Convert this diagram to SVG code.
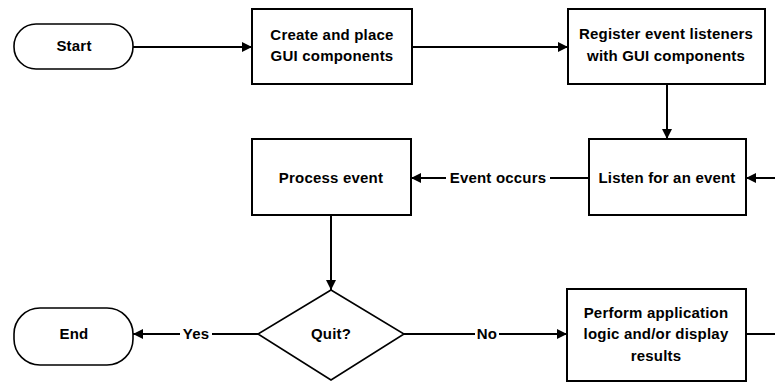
<svg xmlns="http://www.w3.org/2000/svg" width="775" height="383" viewBox="0 0 775 383">
<style>
.box{fill:#fff;stroke:#000;stroke-width:2}
.term{fill:#fff;stroke:#000;stroke-width:1.6}
.t{font-family:"Liberation Sans",Arial,sans-serif;font-size:15px;font-weight:bold;fill:#000;text-anchor:middle;letter-spacing:0.2px}
.ln{stroke:#000;stroke-width:2;fill:none}
.lbl{font-family:"Liberation Sans",Arial,sans-serif;font-size:15px;font-weight:bold;fill:#000;text-anchor:middle;letter-spacing:0.2px}
</style>
<defs>
<marker id="ah" viewBox="0 0 10 10" refX="10" refY="5" markerWidth="5" markerHeight="5" orient="auto" markerUnits="strokeWidth">
<path d="M0,0 L10,5 L0,10 z" fill="#000"/>
</marker>
</defs>
<g id="connectors">
<line class="ln" x1="133" y1="47" x2="252" y2="47" marker-end="url(#ah)"/>
<line class="ln" x1="412" y1="47" x2="568" y2="47" marker-end="url(#ah)"/>
<line class="ln" x1="667" y1="84" x2="667" y2="139" marker-end="url(#ah)"/>
<line class="ln" x1="775" y1="178" x2="746" y2="178" marker-end="url(#ah)"/>
<line class="ln" x1="589" y1="178" x2="550" y2="178"/>
<line class="ln" x1="446" y1="178" x2="411" y2="178" marker-end="url(#ah)"/>
<text class="lbl" x="498" y="183">Event occurs</text>
<line class="ln" x1="331" y1="215" x2="331" y2="290" marker-end="url(#ah)"/>
<line class="ln" x1="258" y1="334" x2="212" y2="334"/>
<line class="ln" x1="180" y1="334" x2="133" y2="334" marker-end="url(#ah)"/>
<text class="lbl" x="196" y="339">Yes</text>
<line class="ln" x1="404" y1="334" x2="475" y2="334"/>
<line class="ln" x1="499" y1="334" x2="567" y2="334" marker-end="url(#ah)"/>
<text class="lbl" x="487" y="339">No</text>
<line class="ln" x1="746" y1="334" x2="775" y2="334"/>
</g>
<g id="start">
<rect class="term" x="14" y="24" width="119" height="45" rx="22" ry="22"/>
<text class="t" x="74" y="51">Start</text>
</g>
<g id="create">
<rect class="box" x="252" y="9" width="160" height="75"/>
<text class="t" x="332" y="40">Create and place</text>
<text class="t" x="332" y="61">GUI components</text>
</g>
<g id="register">
<rect class="box" x="568" y="9" width="197" height="75"/>
<text class="t" x="666" y="39">Register event listeners</text>
<text class="t" x="666" y="61">with GUI components</text>
</g>
<g id="listen">
<rect class="box" x="589" y="139" width="157" height="76"/>
<text class="t" x="667" y="183">Listen for an event</text>
</g>
<g id="process">
<rect class="box" x="252" y="139" width="159" height="76"/>
<text class="t" x="331" y="183">Process event</text>
</g>
<g id="quit">
<polygon class="term" points="331,290 404,334 331,380 258,334"/>
<text class="t" x="331" y="339">Quit?</text>
</g>
<g id="end">
<rect class="term" x="14" y="308" width="119" height="57" rx="26" ry="26"/>
<text class="t" x="74" y="339">End</text>
</g>
<g id="perform">
<rect class="box" x="567" y="289" width="179" height="92"/>
<text class="t" x="656" y="318">Perform application</text>
<text class="t" x="656" y="339">logic and/or display</text>
<text class="t" x="656" y="361">results</text>
</g>
</svg>
